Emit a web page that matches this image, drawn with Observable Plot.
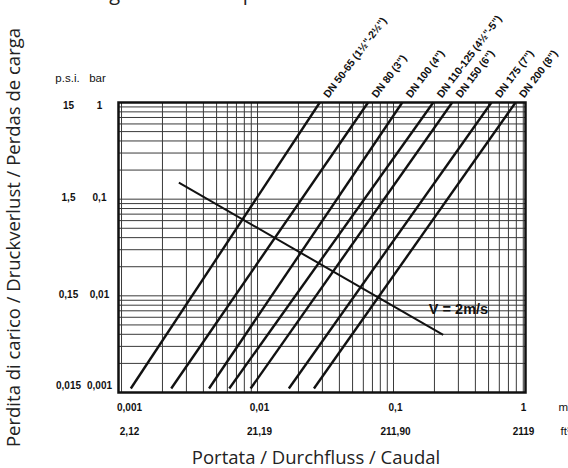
<!DOCTYPE html>
<html>
<head>
<meta charset="utf-8">
<script src="https://cdn.jsdelivr.net/npm/d3@7"></script>
<script src="https://cdn.jsdelivr.net/npm/@observablehq/plot@0.6"></script>
<style>
  html, body { margin: 0; padding: 0; background: #fff; overflow: hidden; }
  #chart { width: 568px; height: 468px; }
</style>
</head>
<body>
<div id="chart"></div>
<script>
// ---- data ----
const dnLabels = ['DN 50-65 (1½"-2½")', 'DN 80 (3")', 'DN 100 (4")', 'DN 110-125 (4½"-5")', 'DN 150 (6")', 'DN 175 (7")', 'DN 200 (8")'];
const flowAtBottom = [0.00117, 0.00232, 0.0044, 0.0062, 0.0089, 0.017, 0.026];   // m³/s at loss = lossBottom
const flowAtTop    = [0.0287, 0.065, 0.116, 0.196, 0.27, 0.525, 0.79];          // m³/s at loss = lossTop
const lossBottom = 0.0011;  // bar
const lossTop = 1;          // bar

const velocityFlow = [0.00264, 0.232];
const velocityLoss = [0.148, 0.00395];
const velocityLabel = "V = 2m/s";
const velocityLabelFlow = 0.182;
const velocityLabelLoss = 0.00717;

const barTicks = [1, 0.1, 0.01, 0.001];
const barLabels = ["1", "0,1", "0,01", "0,001"];
const psiLabels = ["15", "1,5", "0,15", "0,015"];
const flowTicks = [0.001, 0.01, 0.1, 1];
const m3Labels = ["0,001", "0,01", "0,1", "1"];
const ftLabels = ["2,12", "21,19", "211,90", "2119"];

const titleText = "Diagramma delle perdite di carico";
const yTitle = "Perdita di carico / Druckverlust / Perdas de carga";
const xTitle = "Portata / Durchfluss / Caudal";

// ---- derived tables ----
const xDomain = [0.00095, 0.9346];
const yDomain = [0.001, 1];
const decadesX = [0.001, 0.01, 0.1];
const xGrid = decadesX.flatMap(d => d3.range(1, 10).map(k => k * d)).filter(v => v >= xDomain[0] && v <= xDomain[1]);
const yGrid = decadesX.flatMap(d => d3.range(1, 10).map(k => k * d)).concat([1]);

const dnTable = dnLabels.map((label, i) => ({label, x1: flowAtBottom[i], y1: lossBottom, x2: flowAtTop[i], y2: lossTop}));
const velTable = [{x1: velocityFlow[0], y1: velocityLoss[0], x2: velocityFlow[1], y2: velocityLoss[1]}];
const yRows = barTicks.map((v, i) => ({v, bar: barLabels[i], psi: psiLabels[i]}));
const xRows = flowTicks.map((v, i) => ({v, m3: m3Labels[i], ft: ftLabels[i]}));

const lab = {fontFamily: "Liberation Sans, Arial, sans-serif", fontWeight: "bold", fontSize: 10, fill: "#111"};
const reg = {fontFamily: "Liberation Sans, Arial, sans-serif", fontSize: 11.5, fill: "#111"};
const big = {fontFamily: "Open Sans, sans-serif", fontSize: 18.5, fill: "#222"};

const yGroups = [[0, 1, 3], [1, 3, -1], [3, 4, -7]];
const xGroups = [[0, 1, 8], [1, 3, 2], [3, 4, -6]];

const marks = [
  Plot.ruleX(xGrid, {x: d => d, stroke: "#3a3a3a", strokeWidth: 1}),
  Plot.ruleY(yGrid, {y: d => d, stroke: "#3a3a3a", strokeWidth: 1}),
  Plot.frame({stroke: "#111", strokeWidth: 2.5}),
  Plot.link(dnTable, {x1: "x1", y1: "y1", x2: "x2", y2: "y2", stroke: "#111", strokeWidth: 2.4}),
  Plot.text(dnTable, {x: "x2", y: "y2", text: "label", rotate: -53, textAnchor: "start", lineAnchor: "middle", dx: 6, dy: -6, ...lab, fontSize: 10.5}),
  Plot.link(velTable, {x1: "x1", y1: "y1", x2: "x2", y2: "y2", stroke: "#111", strokeWidth: 2}),
  Plot.text([velocityLabel], {x: () => velocityLabelFlow, y: () => velocityLabelLoss, text: d => d, textAnchor: "start", lineAnchor: "middle", ...lab, fontSize: 14.5}),
  ...yGroups.flatMap(([a, b, dy]) => [
    Plot.text(yRows.slice(a, b), {y: "v", text: "psi", frameAnchor: "left", dx: -50, dy, textAnchor: "middle", lineAnchor: "middle", ...lab}),
    Plot.text(yRows.slice(a, b), {y: "v", text: "bar", frameAnchor: "left", dx: -19, dy, textAnchor: "middle", lineAnchor: "middle", ...lab})
  ]),
  ...xGroups.flatMap(([a, b, dx]) => [
    Plot.text(xRows.slice(a, b), {x: "v", text: "m3", frameAnchor: "bottom", dx, dy: 15, textAnchor: "middle", lineAnchor: "middle", ...lab}),
    Plot.text(xRows.slice(a, b), {x: "v", text: "ft", frameAnchor: "bottom", dx, dy: 39, textAnchor: "middle", lineAnchor: "middle", ...lab})
  ]),
  Plot.text(["p.s.i."], {text: d => d, frameAnchor: "top-left", dx: -51, dy: -24, textAnchor: "middle", lineAnchor: "middle", ...reg}),
  Plot.text(["bar"], {text: d => d, frameAnchor: "top-left", dx: -21, dy: -24, textAnchor: "middle", lineAnchor: "middle", ...reg}),
  Plot.text(["m³/s"], {text: d => d, frameAnchor: "bottom-right", dx: 33, dy: 15, textAnchor: "start", lineAnchor: "middle", ...reg}),
  Plot.text(["ft³/min"], {text: d => d, frameAnchor: "bottom-right", dx: 35, dy: 39, textAnchor: "start", lineAnchor: "middle", ...reg}),
  Plot.text([yTitle], {text: d => d, frameAnchor: "left", dx: -104, dy: -10, rotate: -90, textAnchor: "middle", lineAnchor: "middle", ...big}),
  Plot.text([xTitle], {text: d => d, frameAnchor: "bottom", dx: -6, dy: 66, textAnchor: "middle", lineAnchor: "middle", ...big}),
  Plot.text([titleText], {text: d => d, frameAnchor: "top-left", dx: -40, dy: -103, textAnchor: "start", lineAnchor: "bottom", ...big, fontSize: 20})
];

const chart = Plot.plot({
  width: 568,
  height: 468,
  marginLeft: 118,
  marginRight: 43,
  marginTop: 102,
  marginBottom: 76,
  x: {type: "log", domain: xDomain, axis: null},
  y: {type: "log", domain: yDomain, axis: null},
  style: {background: "white", overflow: "hidden"},
  marks
});
document.getElementById("chart").append(chart);
</script>
</body>
</html>
